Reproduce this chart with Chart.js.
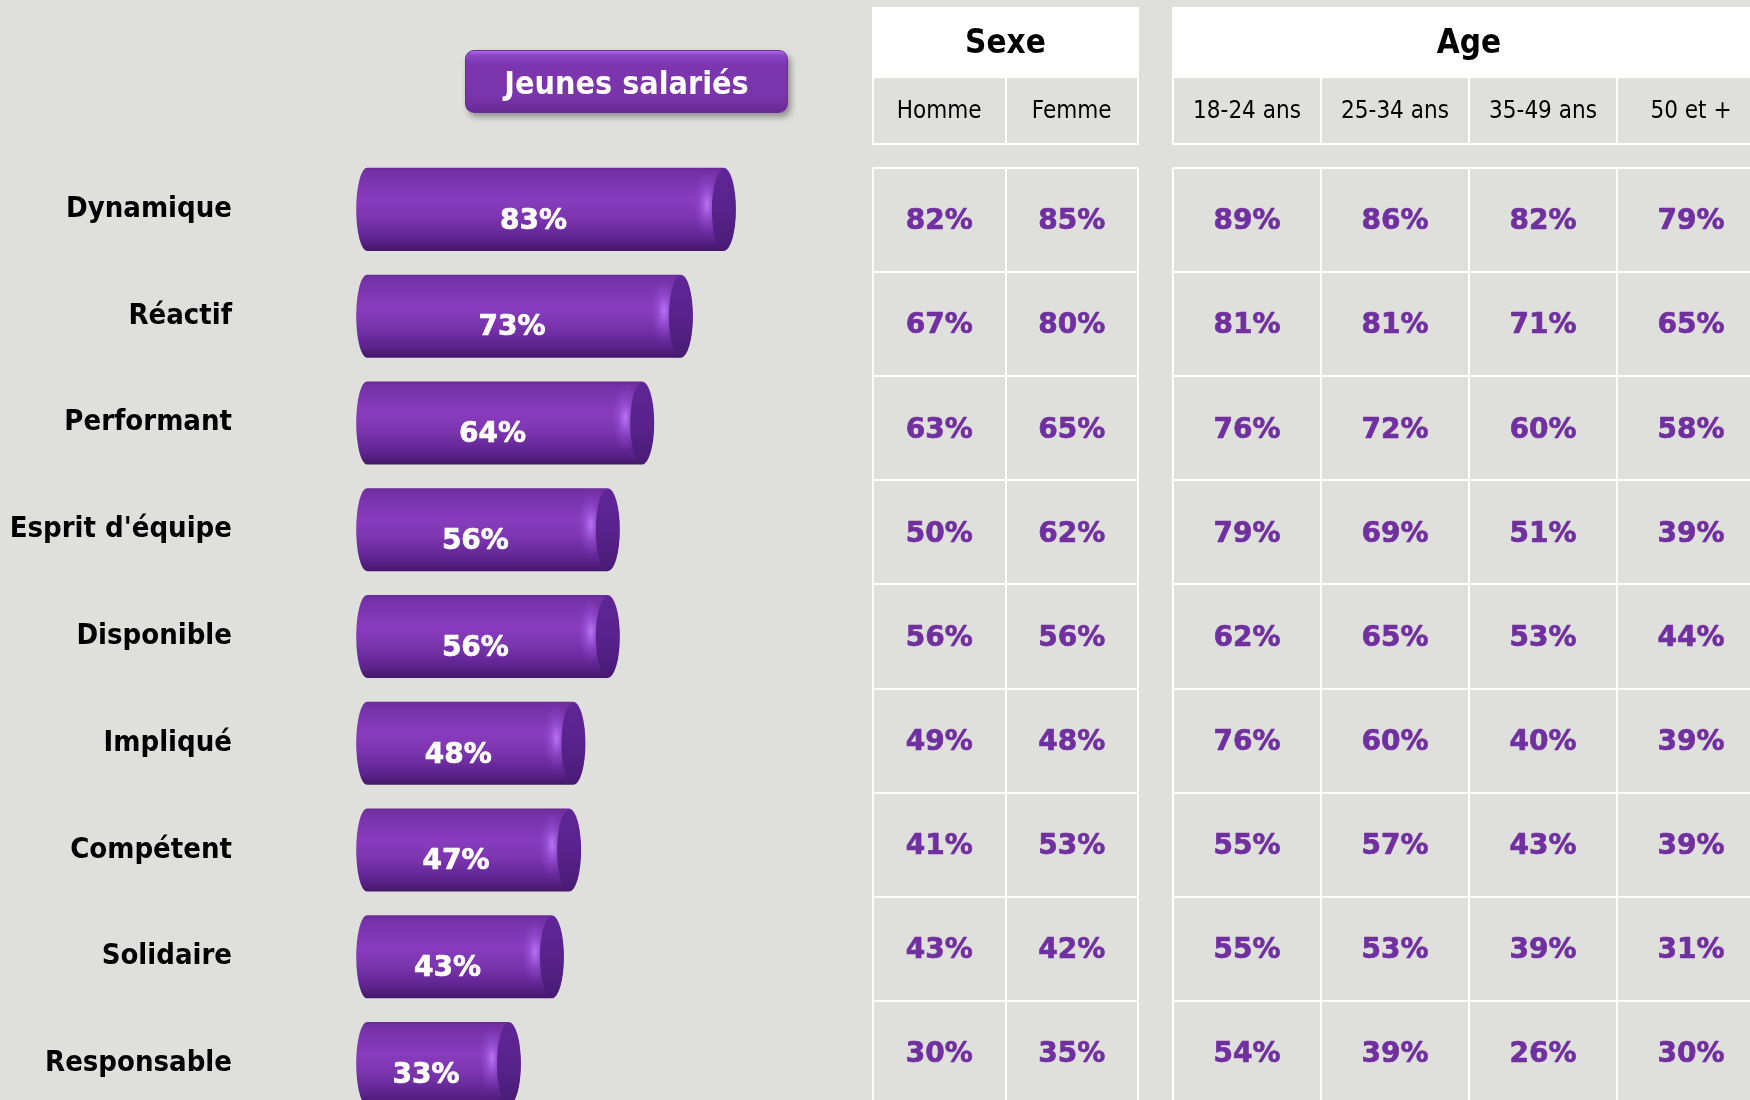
<!DOCTYPE html>
<html lang="fr">
<head>
<meta charset="utf-8">
<title>Jeunes salariés</title>
<script src="https://cdn.jsdelivr.net/npm/chart.js@4.4.1/dist/chart.umd.min.js"></script>
<style>
  html, body { margin: 0; padding: 0; background: #dfe0db; }
  .page { position: relative; width: 1750px; height: 1100px; overflow: hidden; background: #dfe0db; }
  canvas { position: absolute; top: 0; }
  #bars { left: 0; }
  #sexe { left: 860px; }
  #age { left: 1150px; }
  .badge {
    position: absolute; left: 465px; top: 50px; width: 323px; height: 63px;
    box-sizing: border-box; border-radius: 9px; border: 1px solid #6a2b99;
    background: linear-gradient(to bottom, #b06cec 0%, #8c45c4 7%, #7c35ae 25%, #7a34ab 75%, #682a94 100%);
    box-shadow: 3px 4px 6px rgba(0, 0, 0, 0.35);
    display: flex; align-items: center; justify-content: center; padding-top: 3px;
    color: #fff; font: bold 32px 'DejaVu Sans Condensed', 'DejaVu Sans', sans-serif;
  }
</style>
</head>
<body>
<div class="page">
  <canvas id="bars" width="860" height="1130"></canvas>
  <canvas id="sexe" width="290" height="1130"></canvas>
  <canvas id="age" width="615" height="1130"></canvas>
  <div class="badge">Jeunes salariés</div>
</div>
<script>
// Qualités associées aux jeunes salariés (% de citations)
const categories = ['Dynamique', 'Réactif', 'Performant', "Esprit d'équipe", 'Disponible',
                    'Impliqué', 'Compétent', 'Solidaire', 'Responsable'];
const jeunesSalaries = [83, 73, 64, 56, 56, 48, 47, 43, 33];

const sexeLabels = ['Homme', 'Femme'];
const homme = [82, 67, 63, 50, 56, 49, 41, 43, 30];
const femme = [85, 80, 65, 62, 56, 48, 53, 42, 35];

const ageLabels = ['18-24 ans', '25-34 ans', '35-49 ans', '50 et +'];
const age18_24 = [89, 81, 76, 79, 62, 76, 55, 55, 54];
const age25_34 = [86, 81, 72, 69, 65, 60, 57, 53, 39];
const age35_49 = [82, 71, 60, 51, 53, 40, 43, 39, 26];
const age50plus = [79, 65, 58, 39, 44, 39, 39, 31, 30];

const WORD_FONT = "'DejaVu Sans Condensed', 'DejaVu Sans', sans-serif";
const NUM_FONT = "'DejaVu Sans', sans-serif";
const PURPLE = '#7030a0';

// Heavy percentage text: fill plus a thin stroke of the same colour
function heavyText(ctx, text, x, y, color) {
    ctx.fillStyle = color;
    ctx.strokeStyle = color;
    ctx.lineWidth = 0.7;
    ctx.lineJoin = 'round';
    ctx.fillText(text, x, y);
    ctx.strokeText(text, x, y);
}

// Draws each bar as a purple cylinder lying on its side, with the value inside
const cylinderPlugin = {
    id: 'cylinders',
    afterDatasetsDraw(chart) {
        const ctx = chart.ctx;
        const values = chart.data.datasets[0].data;
        chart.getDatasetMeta(0).data.forEach((bar, i) => {
            const { x, y, base, height } = bar.getProps(['x', 'y', 'base', 'height'], true);
            const top = y - height / 2;
            const bottom = y + height / 2;
            const ry = height / 2;
            const rx = 12;

            const body = ctx.createLinearGradient(0, top, 0, bottom);
            body.addColorStop(0, '#6a2a9a');
            body.addColorStop(0.05, '#7431a6');
            body.addColorStop(0.38, '#893cbe');
            body.addColorStop(0.6, '#7c35af');
            body.addColorStop(0.85, '#5e2490');
            body.addColorStop(1, '#441868');

            ctx.save();
            ctx.beginPath();
            ctx.moveTo(base, top);
            ctx.lineTo(x, top);
            ctx.ellipse(x, y, rx, ry, 0, -Math.PI / 2, Math.PI / 2);
            ctx.lineTo(base, bottom);
            ctx.ellipse(base, y, rx * 0.9, ry, 0, Math.PI / 2, Math.PI * 1.5);
            ctx.closePath();
            ctx.fillStyle = body;
            ctx.fill();
            ctx.clip();

            // soft light just before the end cap
            ctx.save();
            ctx.translate(x - rx - 5, y - 5);
            ctx.scale(0.4, 1);
            const glow = ctx.createRadialGradient(0, 0, 0, 0, 0, ry * 0.8);
            glow.addColorStop(0, 'rgba(196, 132, 255, 0.8)');
            glow.addColorStop(0.5, 'rgba(170, 100, 240, 0.35)');
            glow.addColorStop(1, 'rgba(150, 80, 220, 0)');
            ctx.fillStyle = glow;
            ctx.fillRect(-ry * 2, -ry * 1.2, ry * 4, ry * 2.4);
            ctx.restore();

            // end cap
            const cap = ctx.createLinearGradient(0, top, 0, bottom);
            cap.addColorStop(0, '#5f2696');
            cap.addColorStop(0.5, '#58238d');
            cap.addColorStop(1, '#481b73');
            ctx.beginPath();
            ctx.ellipse(x, y, rx, ry - 1, 0, 0, Math.PI * 2);
            ctx.fillStyle = cap;
            ctx.fill();
            ctx.restore();

            ctx.save();
            ctx.font = `bold 28px ${NUM_FONT}`;
            ctx.textAlign = 'center';
            ctx.textBaseline = 'middle';
            heavyText(ctx, values[i] + '%', (base + x) / 2 - rx, y + 12, '#ffffff');
            ctx.restore();
        });
    }
};

new Chart(document.getElementById('bars'), {
    type: 'bar',
    data: {
        labels: categories,
        datasets: [{
            label: 'Jeunes salariés',
            data: jeunesSalaries,
            backgroundColor: 'rgba(0, 0, 0, 0)',
            barPercentage: 0.778,
            categoryPercentage: 1
        }]
    },
    options: {
        indexAxis: 'y',
        responsive: false,
        devicePixelRatio: 1,
        animation: false,
        events: [],
        layout: { padding: { top: 156, bottom: 13, left: 0, right: 63 } },
        plugins: { legend: { display: false }, tooltip: { enabled: false } },
        scales: {
            x: { display: false, min: 0, max: 100 },
            y: {
                grid: { display: false, drawTicks: false },
                border: { display: false },
                ticks: {
                    autoSkip: false,
                    padding: 135,
                    color: '#000',
                    font: { family: WORD_FONT, weight: 'bold', size: 29 }
                },
                afterFit(scale) {
                    scale.width = 367;
                    scale.paddingTop = 0;
                    scale.paddingBottom = 0;
                }
            }
        }
    },
    plugins: [cylinderPlugin]
});

// Header boxes and cell values of the breakdown tables
const tablePlugin = {
    id: 'tableCells',
    beforeDraw(chart) {
        const { ctx, chartArea: ca } = chart;
        const xs = chart.scales.x;
        const n = xs.getLabels().length;
        ctx.save();
        ctx.fillStyle = '#ffffff';
        ctx.fillRect(ca.left - 1, 7, ca.right - ca.left + 2, 70);
        ctx.strokeStyle = '#ffffff';
        ctx.lineWidth = 2;
        ctx.strokeRect(ca.left, 77, ca.right - ca.left, 67);
        for (let i = 1; i < n; i++) {
            const px = Math.round(xs.getPixelForValue(i - 0.5));
            ctx.beginPath();
            ctx.moveTo(px, 77);
            ctx.lineTo(px, 144);
            ctx.stroke();
        }
        ctx.restore();
    },
    afterDatasetsDraw(chart) {
        const ctx = chart.ctx;
        ctx.save();
        ctx.font = `bold 28px ${NUM_FONT}`;
        ctx.textAlign = 'center';
        ctx.textBaseline = 'middle';
        chart.data.datasets.forEach((ds, d) => {
            chart.getDatasetMeta(d).data.forEach((pt, i) => {
                heavyText(ctx, ds.data[i].v + '%', pt.x, pt.y + 2, PURPLE);
            });
        });
        ctx.restore();
    }
};

function makeTable(canvasId, title, columns, series, padLeft, padRight) {
    return new Chart(document.getElementById(canvasId), {
        type: 'scatter',
        data: {
            datasets: series.map((values, c) => ({
                label: columns[c],
                data: values.map((v, i) => ({ x: columns[c], y: categories[i], v })),
                pointRadius: 0,
                pointHoverRadius: 0
            }))
        },
        options: {
            responsive: false,
            devicePixelRatio: 1,
            animation: false,
            events: [],
            layout: { padding: { top: 0, bottom: 25, left: padLeft, right: padRight } },
            plugins: { legend: { display: false }, tooltip: { enabled: false } },
            scales: {
                x: {
                    type: 'category',
                    labels: columns,
                    position: 'top',
                    offset: true,
                    grid: { offset: true, color: '#ffffff', lineWidth: 2, drawTicks: false },
                    border: { display: false },
                    ticks: {
                        autoSkip: false,
                        maxRotation: 0,
                        padding: 42,
                        color: '#000',
                        font: { family: WORD_FONT, size: 24 }
                    },
                    title: {
                        display: true,
                        text: title,
                        color: '#000',
                        font: { family: WORD_FONT, weight: 'bold', size: 33 },
                        padding: { top: 25, bottom: 0 }
                    },
                    afterFit(scale) {
                        scale.height = 168;
                        scale.paddingLeft = 0;
                        scale.paddingRight = 0;
                    }
                },
                y: {
                    type: 'category',
                    labels: categories,
                    offset: true,
                    grid: { offset: true, color: '#ffffff', lineWidth: 2, drawTicks: false },
                    border: { display: false },
                    ticks: { display: false },
                    afterFit(scale) {
                        scale.width = 0;
                        scale.paddingTop = 0;
                        scale.paddingBottom = 0;
                    }
                }
            }
        },
        plugins: [tablePlugin]
    });
}

makeTable('sexe', 'Sexe', sexeLabels, [homme, femme], 13, 12);
makeTable('age', 'Age', ageLabels, [age18_24, age25_34, age35_49, age50plus], 23, 0);
</script>
</body>
</html>
